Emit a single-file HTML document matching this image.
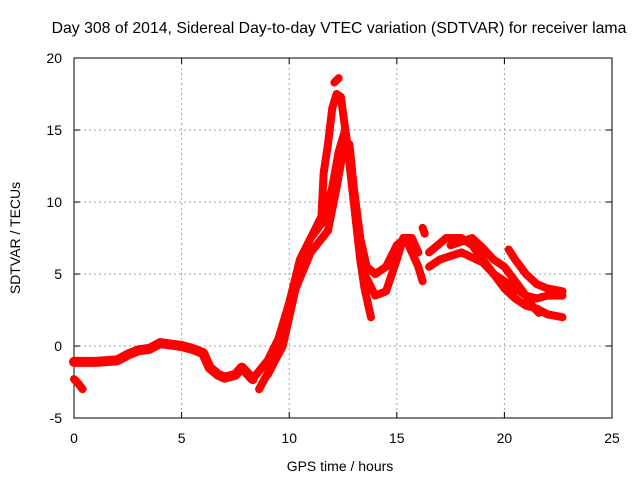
<!DOCTYPE html>
<html><head><meta charset="utf-8"><style>
body{margin:0;background:#fff}
svg{display:block;font-family:"Liberation Sans",sans-serif}
</style></head><body>
<svg width="640" height="480">
<text x="339" y="33" text-anchor="middle" font-size="15.8">Day 308 of 2014, Sidereal Day-to-day VTEC variation (SDTVAR) for receiver lama</text>
<g id="grid"></g>
<g id="axes"></g>
<g id="series"></g>
<text x="340" y="471" text-anchor="middle" font-size="14">GPS time / hours</text>
<text transform="translate(20,238) rotate(-90)" text-anchor="middle" font-size="14">SDTVAR / TECUs</text>
</svg>
<script>
const xTicks=[0,5,10,15,20,25];
const yTicks=[-5,0,5,10,15,20];
const s1x=[8.3,9,9.5,10,10.5,11,11.5,11.6,11.8,12,12.2,12.4,12.7,13,13.3,13.5,13.8];
const s1y=[-2.3,-1,0.5,3,6,7.5,9,12,14,16.5,17.5,17.3,14,10,6,4,2];
const s2x=[8.6,9.5,10,10.5,11,11.5,12,12.3,12.6,12.9,13.2,13.5,14,14.5,15,15.3,15.7,16];
const s2y=[-3,-0.5,2.5,6,7.5,8.5,11,13.5,15,12,8,5,3.5,3.8,6,7.5,7.5,6.5];
const s3x=[9,9.7,10.3,11,11.8,12.2,12.5,12.8,13,13.3,13.6,14,14.5,15,15.4,15.7,16,16.2];
const s3y=[-2,0,4,6.5,8,11,13.5,14,11,7.5,5.5,5,5.5,7,7.5,6.5,5.5,4.5];
const s4x=[0,1,2,2.5,3,3.5,4,4.5,5,5.5,6,6.3,6.7,7,7.5,7.8,8.3];
const s4y=[-1.1,-1.1,-1,-0.6,-0.3,-0.2,0.2,0.1,0,-0.2,-0.5,-1.5,-2,-2.2,-2,-1.5,-2.3];
const s5x=[0,0.2,0.4];
const s5y=[-2.3,-2.6,-3];
const s6x=[16.5,17.3,18,18.5,19,19.5,20,20.5,21,21.5,22,22.7];
const s6y=[6.5,7.5,7.5,7,6,5,4,3.3,2.8,2.6,2.2,2];
const s7x=[16.5,17,18,19,19.5,20,20.5,21,21.5,22,22.7];
const s7y=[5.5,6,6.5,5.8,5,4.5,4,3.5,3.3,3.5,3.5];
const s8x=[17.5,18.5,19,19.5,20,20.5,21,21.3,21.6];
const s8y=[7,7.5,6.8,6,5.5,4.5,3.5,2.8,2.3];
const s9x=[20.2,20.5,21,21.5,22,22.7];
const s9y=[6.7,6,5,4.3,4,3.8];
const s10x=[12.1,12.3];
const s10y=[18.3,18.6];
const s11x=[16.2,16.3];
const s11y=[8.2,7.8];
const series=[[s1x,s1y],[s2x,s2y],[s3x,s3y],[s4x,s4y],[s5x,s5y],[s6x,s6y],[s7x,s7y],[s8x,s8y],[s9x,s9y],[s10x,s10y],[s11x,s11y]];
const X=v=>74+v*21.52, Y=v=>346-v*14.4;
const NS="http://www.w3.org/2000/svg";
function mk(t,a,p){const e=document.createElementNS(NS,t);for(const k in a)e.setAttribute(k,a[k]);p.appendChild(e);return e;}
const g=document.getElementById('grid'),ax=document.getElementById('axes'),sg=document.getElementById('series');
xTicks.forEach(t=>{
 if(t>0&&t<25){const l=mk('line',{x1:X(t),x2:X(t),y1:58,y2:418,stroke:'#a0a0a0','stroke-dasharray':'2,3'},g);
 
 }
 const tx=mk('text',{x:X(t),y:443,'text-anchor':'middle','font-size':14},ax);tx.textContent=t;
 
 
 mk('line',{x1:X(t),x2:X(t),y1:418,y2:412,stroke:'#000'},ax);mk('line',{x1:X(t),x2:X(t),y1:58,y2:64,stroke:'#000'},ax);
});
yTicks.forEach(t=>{
 if(t>-5&&t<20){const l=mk('line',{x1:74,x2:612,y1:Y(t),y2:Y(t),stroke:'#a0a0a0','stroke-dasharray':'2,3'},g);
 
 }
 const tx=mk('text',{x:62,y:Y(t)+5,'text-anchor':'end','font-size':14},ax);tx.textContent=t;
 
 
 mk('line',{x1:74,x2:80,y1:Y(t),y2:Y(t),stroke:'#000'},ax);mk('line',{x1:612,x2:606,y1:Y(t),y2:Y(t),stroke:'#000'},ax);
});
const fr=mk('rect',{x:74,y:58,width:538,height:360,fill:'none',stroke:'#000'},ax);


series.forEach((s,i)=>{
 const pts=s[0].map((x,j)=>X(x)+','+Y(s[1][j])).join(' ');
 const p=mk('polyline',{points:pts,fill:'none',stroke:'#ff0000','stroke-width':(i===3?10:8),'stroke-linejoin':'round','stroke-linecap':'round'},sg);
 
 
});
</script>
</body></html>
